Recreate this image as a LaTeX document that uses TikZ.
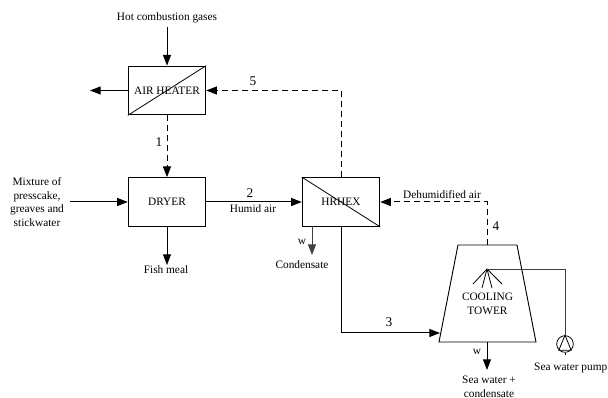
\documentclass[tikz,border=0pt]{standalone}
\usepackage{fontspec}
\setmainfont{Liberation Serif}
\usetikzlibrary{arrows.meta}
\tikzset{
    unit/.style={draw=black, line width=0.8pt, minimum width=58pt, minimum height=36.5pt, inner sep=0pt},
    label/.style={inner sep=0pt, align=center},
    number/.style={label, font=\fontsize{10}{11}\selectfont},
    flow/.style={-{Triangle[length=8pt, width=6pt]}, line width=0.75pt},
    dashflow/.style={flow, dash pattern=on 4.5pt off 3pt},
    drain/.style={flow, black!75},
    thin line/.style={line width=0.6pt}
}
\begin{document}
\begin{tikzpicture}[x=0.75pt, y=-0.75pt, font=\fontsize{8.5}{10.3}\selectfont]
    \useasboundingbox (0, 0) rectangle (608, 398);

    % Draw the units
    \node[unit] (heater) at (167, 90.5) {AIR HEATER};
    \node[unit] (dryer) at (167, 202) {DRYER};
    \node[unit] (hrhex) at (341, 202) {HRHEX};
    \draw[thin line] (heater.south west) -- (heater.north east);
    \draw[thin line] (hrhex.north west) -- (hrhex.south east);

    % Draw the cooling tower (trapezium)
    \coordinate (towertl) at (458, 245);
    \coordinate (towertr) at (517, 245);
    \coordinate (towerbr) at (536, 342);
    \coordinate (towerbl) at (439, 342);
    \draw[line width=0.7pt] (towertl) -- (towertr) -- (towerbr) -- (towerbl) -- cycle;
    \node[label] (tower) at (487.5, 303.5) {COOLING\\TOWER};
    \coordinate (towertop) at (487, 245);
    \coordinate (towerbot) at (487, 342);
    \coordinate (towerin) at (440, 333);

    % Draw the spray
    \coordinate (spray) at (487, 269);
    \foreach \endx/\endy in {473/284, 482/288, 492/288, 502/284}
        \draw[thin line] (spray) -- (\endx, \endy);

    % Draw the pump (circle)
    \node[draw=black, circle, line width=0.6pt, minimum size=12.5pt, inner sep=0pt] (pump) at (565, 344) {};
    \draw[thin line] (pump.south west) -- (pump.north) -- (pump.south east) -- cycle;
    \coordinate (pumptail) at (565, 355);
    \draw[thin line] (pump.south) -- (pumptail);
    \draw[thin line, black!75] (spray) -| (pump.north);
    \node[label, anchor=east] (pumplabel) at (607.5, 367.5) {Sea water pump};

    % Draw the labels of the streams
    \node[label] (gases) at (167, 18) {Hot combustion gases};
    \node[label] (mixture) at (37, 202) {Mixture of\\presscake,\\greaves and\\stickwater};
    \node[label] (meal) at (166, 270) {Fish meal};
    \node[label] (condensate) at (302, 265) {Condensate};
    \node[label] (seawater) at (489, 386.5) {Sea water +\\condensate};
    \node[label] (humid) at (253, 208.5) {Humid air};
    \node[label] (dehum) at (442, 194.5) {Dehumidified air};
    \node[label] (wone) at (302, 242) {w};
    \node[label] (wtwo) at (477, 352) {w};

    % Draw the stream numbers
    \node[number] (one) at (159, 142) {1};
    \node[number] (two) at (250, 193) {2};
    \node[number] (three) at (389, 322) {3};
    \node[number] (four) at (496, 226) {4};
    \node[number] (five) at (253, 81) {5};

    % Draw the free ends of the arrows
    \coordinate (gasesin) at (167, 27);
    \coordinate (heaterout) at (90, 90.5);
    \coordinate (mixturein) at (70, 202);
    \coordinate (mealout) at (167, 265);
    \coordinate (condout) at (312, 255);
    \coordinate (seaout) at (487, 370);
    \coordinate (hrhextop) at (341, 177.5);
    \coordinate (hrhexbot) at (341.5, 226);
    \coordinate (condtop) at (312, 226);

    % Draw the solid streams
    \draw[flow] (gasesin) -- (heater.north);
    \draw[flow] (heater.west) -- (heaterout);
    \draw[flow] (mixturein) -- (dryer.west);
    \draw[flow] (dryer.south) -- (mealout);
    \draw[flow] (dryer.east) -- (hrhex.west);
    \draw[flow] (hrhexbot) |- (towerin);
    \draw[flow] (towerbot) -- (seaout);
    \draw[drain] (condtop) -- (condout);

    % Draw the dashed streams
    \draw[dashflow] (heater.south) -- (dryer.north);
    \draw[dashflow] (hrhextop) |- (heater.east);
    \draw[dashflow] (towertop) |- (hrhex.east);
\end{tikzpicture}
\end{document}
